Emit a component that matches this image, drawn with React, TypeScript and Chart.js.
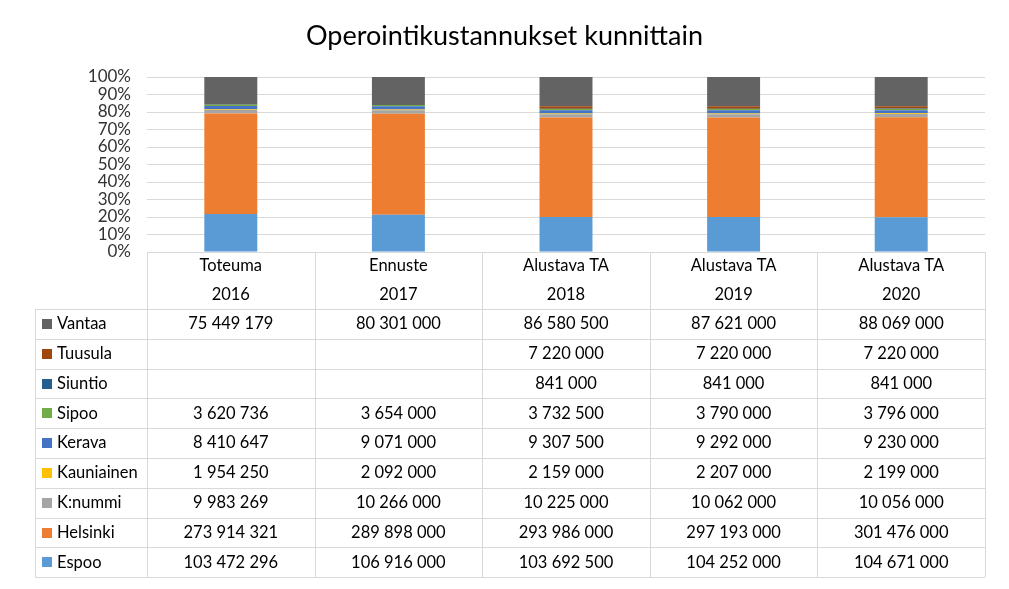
import React, { useEffect, useRef } from "react";
import { Chart, registerables } from "chart.js";

Chart.register(...registerables);

const titleText = "Operointikustannukset kunnittain";
const categoryTop = ["Toteuma", "Ennuste", "Alustava TA", "Alustava TA", "Alustava TA"];
const categoryYear = ["2016", "2017", "2018", "2019", "2020"];

// series, bottom to top of the stack
const seriesNames = ["Espoo", "Helsinki", "K:nummi", "Kauniainen", "Kerava", "Sipoo", "Siuntio", "Tuusula", "Vantaa"];
const seriesColors = ["#5B9BD5", "#ED7D31", "#A5A5A5", "#FFC000", "#4472C4", "#70AD47", "#255E91", "#9E480E", "#636363"];

const espoo = [103472296, 106916000, 103692500, 104252000, 104671000];
const helsinki = [273914321, 289898000, 293986000, 297193000, 301476000];
const knummi = [9983269, 10266000, 10225000, 10062000, 10056000];
const kauniainen = [1954250, 2092000, 2159000, 2207000, 2199000];
const kerava = [8410647, 9071000, 9307500, 9292000, 9230000];
const sipoo = [3620736, 3654000, 3732500, 3790000, 3796000];
const siuntio: (number | null)[] = [null, null, 841000, 841000, 841000];
const tuusula: (number | null)[] = [null, null, 7220000, 7220000, 7220000];
const vantaa = [75449179, 80301000, 86580500, 87621000, 88069000];

const seriesValues: (number | null)[][] = [espoo, helsinki, knummi, kauniainen, kerava, sipoo, siuntio, tuusula, vantaa];

const yTicks = [0, 10, 20, 30, 40, 50, 60, 70, 80, 90, 100];

const FONT = "Lato, 'Open Sans', sans-serif";

function fmt(v: number | null): string {
  if (v === null || v === undefined) return "";
  return String(v).replace(/\B(?=(\d{3})+(?!\d))/g, " ");
}

const totals = categoryYear.map((_, i) =>
  seriesValues.reduce((s, arr) => s + (arr[i] ?? 0), 0)
);

const tablePlugin = {
  id: "dataTable",
  afterDraw(chart: any) {
    const ctx: CanvasRenderingContext2D = chart.ctx;
    const area = chart.chartArea;
    const xs = chart.scales.x;
    const n = categoryYear.length;
    const colW = (area.right - area.left) / n;
    const headerTop = area.bottom;
    const headerH = 57;
    const rowH = 29.8;
    const tableLeft = 35;
    const rowsTop = headerTop + headerH;
    const nRows = seriesNames.length;
    const bottom = rowsTop + nRows * rowH;
    const px = (v: number) => Math.round(v) + 0.5;

    ctx.save();
    ctx.strokeStyle = "#d9d9d9";
    ctx.lineWidth = 1;
    ctx.beginPath();
    ctx.moveTo(area.left, px(headerTop));
    ctx.lineTo(area.right, px(headerTop));
    for (let k = 0; k <= nRows; k++) {
      const y = px(rowsTop + k * rowH);
      ctx.moveTo(tableLeft, y);
      ctx.lineTo(area.right, y);
    }
    ctx.moveTo(px(tableLeft), rowsTop);
    ctx.lineTo(px(tableLeft), bottom);
    for (let i = 0; i <= n; i++) {
      const x = px(area.left + i * colW);
      ctx.moveTo(x, headerTop);
      ctx.lineTo(x, bottom);
    }
    ctx.stroke();

    ctx.fillStyle = "#000";
    ctx.font = `16.5px ${FONT}`;
    ctx.textAlign = "center";
    ctx.textBaseline = "middle";
    for (let i = 0; i < n; i++) {
      const cx = xs.getPixelForValue(i);
      ctx.fillText(categoryTop[i], cx, headerTop + 14);
      ctx.fillText(categoryYear[i], cx, headerTop + 43);
    }

    for (let r = 0; r < nRows; r++) {
      const s = nRows - 1 - r;
      const cy = rowsTop + r * rowH + rowH / 2;
      ctx.fillStyle = seriesColors[s];
      ctx.fillRect(42, Math.round(cy - 5), 10, 10);
      ctx.fillStyle = "#000";
      ctx.textAlign = "left";
      ctx.fillText(seriesNames[s], 57, cy);
      ctx.textAlign = "center";
      for (let i = 0; i < n; i++) {
        ctx.fillText(fmt(seriesValues[s][i]), xs.getPixelForValue(i), cy);
      }
    }
    ctx.restore();
  },
};

export default function App() {
  const ref = useRef<HTMLCanvasElement | null>(null);
  useEffect(() => {
    document.body.style.margin = "0";
    if (!ref.current) return;
    const chart = new Chart(ref.current, {
      type: "bar",
      data: {
        labels: categoryYear,
        datasets: seriesNames.map((name, s) => ({
          label: name,
          data: seriesValues[s].map((v, i) => ((v ?? 0) / totals[i]) * 100),
          backgroundColor: seriesColors[s],
          borderWidth: 0,
          barPercentage: 0.316,
          categoryPercentage: 1,
        })),
      },
      options: {
        animation: false,
        responsive: true,
        maintainAspectRatio: false,
        layout: { padding: { left: 24, right: 24, top: 0, bottom: 337 } },
        plugins: {
          legend: { display: false },
          tooltip: { enabled: false },
          title: {
            display: true,
            text: titleText,
            color: "#000",
            font: { family: FONT, size: 27, weight: "normal", lineHeight: 1.2 },
            padding: { top: 20, bottom: 24.6 },
          },
        },
        scales: {
          x: { stacked: true, display: false },
          y: {
            stacked: true,
            min: 0,
            max: 100,
            afterFit: (scale: any) => {
              scale.width = 123;
            },
            afterBuildTicks: (scale: any) => {
              scale.ticks = yTicks.map((v) => ({ value: v }));
            },
            border: { display: false },
            grid: { color: "#d9d9d9", lineWidth: 1, drawTicks: false },
            ticks: {
              color: "#333",
              autoSkip: false,
              font: { family: FONT, size: 17 },
              padding: 16,
              callback: (v: any) => `${v}%`,
            },
          },
        },
      },
      plugins: [tablePlugin],
    });
    return () => chart.destroy();
  }, []);
  return (
    <div style={{ width: 1009, height: 589, position: "relative" }}>
      <canvas ref={ref} />
    </div>
  );
}
